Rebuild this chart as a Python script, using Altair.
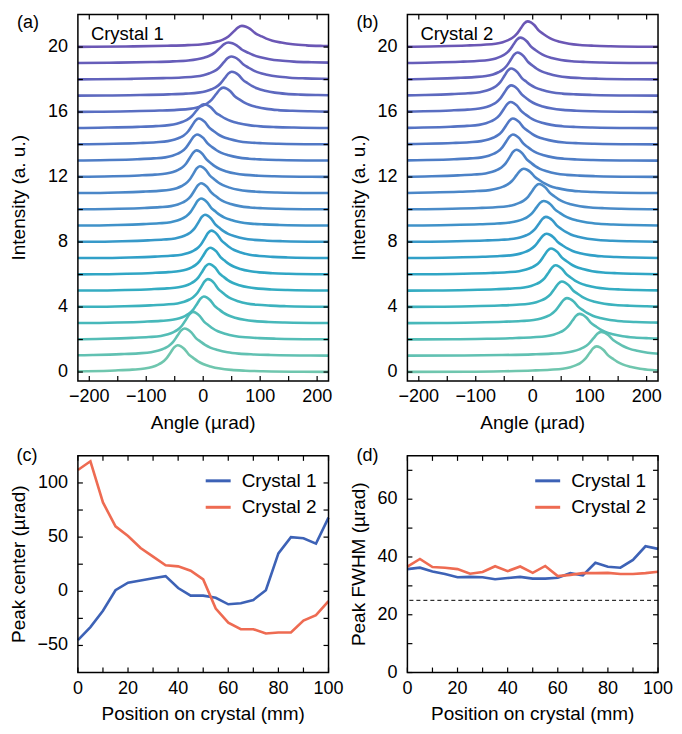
import altair as alt
import pandas as pd

FONT = "Liberation Sans"
BLUE = "#3d62b6"
RED = "#ee6b52"
WATERFALL_COLORS = ["#6fc6ae", "#4a8bc8", "#6b57b5"]

# ---------------- data ----------------
positions = [0, 5, 10, 15, 20, 25, 30, 35, 40, 45, 50, 55, 60, 65, 70, 75, 80, 85, 90, 95, 100]
series_names = ["Crystal 1", "Crystal 2"]

center_crystal1 = [-45, -33, -18, 1, 8, 10, 12, 14, 3, -4, -4, -6, -12, -11, -8, 1, 35, 50, 49, 44, 68]
center_crystal2 = [112, 120, 82, 60, 51, 40, 32, 24, 23, 19, 11, -16, -29, -35, -35, -39, -38, -38, -27, -22, -9]

fwhm_crystal1 = [35.8, 36.3, 35.0, 34.1, 33.0, 33.1, 33.0, 32.3, 32.7, 33.1, 32.5,
                 32.5, 32.8, 34.4, 33.6, 38.0, 36.6, 36.3, 39.0, 43.7, 42.8]
fwhm_crystal2 = [36.7, 39.3, 36.5, 36.3, 35.8, 34.2, 34.8, 36.8, 35.1, 36.7, 34.5,
                 36.9, 33.4, 33.8, 34.4, 34.4, 34.5, 34.1, 34.1, 34.4, 34.9]

# peak heights of the stacked profiles (a.u.) (a) and (b)
height_crystal1 = [1.65, 1.68, 1.70, 1.65, 1.72, 1.65, 1.65, 1.70, 1.68, 1.68, 1.62,
                   1.66, 1.64, 1.62, 1.60, 1.48, 1.50, 1.48, 1.42, 1.28, 1.30]
height_crystal2 = [1.58, 1.47, 1.58, 1.55, 1.57, 1.57, 1.60, 1.51, 1.55, 1.53, 1.57,
                   1.51, 1.68, 1.62, 1.60, 1.62, 1.64, 1.68, 1.66, 1.58, 1.58]

# shape of one rocking profile (offset in urad for a 36 urad wide peak, relative height)
profile_width = 36.0
profile_offset = [-450, -220, -160, -110, -80, -58, -45, -35, -28, -20, -12, -6, 0,
                  6, 12, 20, 28, 36, 45, 58, 75, 95, 120, 150, 220, 450]
profile_value = [0.0, 0.01, 0.03, 0.06, 0.09, 0.13, 0.19, 0.27, 0.35, 0.50, 0.74, 0.92, 1.0,
                 0.96, 0.86, 0.65, 0.52, 0.40, 0.30, 0.21, 0.13, 0.08, 0.05, 0.03, 0.01, 0.0]

FWHM_LIMIT = 25

# tick positions and labelled tick values of the axes
angle_ticks = [-200, -150, -100, -50, 0, 50, 100, 150, 200]
angle_labels = [-200, -100, 0, 100, 200]
intensity_ticks = [0, 2, 4, 6, 8, 10, 12, 14, 16, 18, 20]
intensity_labels = [0, 4, 8, 12, 16, 20]
position_ticks = [0, 10, 20, 30, 40, 50, 60, 70, 80, 90, 100]
position_labels = [0, 20, 40, 60, 80, 100]
center_ticks = [-50, -25, 0, 25, 50, 75, 100]
center_labels = [-50, 0, 50, 100]
fwhm_ticks = [0, 10, 20, 30, 40, 50, 60, 70]
fwhm_labels = [0, 20, 40, 60]

curve_ids = list(range(len(positions)))


def profiles(centers, widths, heights):
    rows = []
    for i, (c, w, h) in enumerate(zip(centers, widths, heights)):
        for k, (off, val) in enumerate(zip(profile_offset, profile_value)):
            rows.append({"curve": curve_ids[i], "order": k,
                         "angle": c + off * w / profile_width,
                         "intensity": curve_ids[i] + h * val})
    return pd.DataFrame(rows)


df_a = profiles(center_crystal1, fwhm_crystal1, height_crystal1)
df_b = profiles(center_crystal2, fwhm_crystal2, height_crystal2)

df_c = pd.DataFrame({
    "position": positions + positions,
    "crystal": [series_names[0]] * len(positions) + [series_names[1]] * len(positions),
    "value": center_crystal1 + center_crystal2,
})
df_d = pd.DataFrame({
    "position": positions + positions,
    "crystal": [series_names[0]] * len(positions) + [series_names[1]] * len(positions),
    "value": fwhm_crystal1 + fwhm_crystal2,
})
legend_df = pd.DataFrame({"crystal": series_names})

TOP_W, TOP_H = 251, 367
BOT_W, BOT_H = 251, 217
TICK_LEN = 5
LABEL_SIZE = 18
TITLE_SIZE = 19


def text_layer(label, x, y, size=18, align="center", angle=0):
    return alt.Chart(pd.DataFrame({"t": [label]})).mark_text(
        font=FONT, fontSize=size, align=align, baseline="middle", color="black", angle=angle
    ).encode(text="t:N", x=alt.value(x), y=alt.value(y))


def axes_layers(xs, ys, xticks, yticks, xlabels, ylabels, xtitle, ytitle, ytitle_x, w, h):
    """Frame, inward ticks on four sides, tick labels and titles, placed through the scales."""
    tick = dict(color="black", strokeWidth=1.2)
    xt = alt.Chart(pd.DataFrame({"v": xticks}))
    yt = alt.Chart(pd.DataFrame({"v": yticks}))
    lab = dict(font=FONT, fontSize=LABEL_SIZE, color="black", baseline="middle")
    return [
        xt.mark_rule(**tick).encode(x=alt.X("v:Q", scale=xs, axis=None),
                                    y=alt.value(h), y2=alt.value(h - TICK_LEN)),
        xt.mark_rule(**tick).encode(x=alt.X("v:Q", scale=xs, axis=None),
                                    y=alt.value(0), y2=alt.value(TICK_LEN)),
        yt.mark_rule(**tick).encode(y=alt.Y("v:Q", scale=ys, axis=None),
                                    x=alt.value(0), x2=alt.value(TICK_LEN)),
        yt.mark_rule(**tick).encode(y=alt.Y("v:Q", scale=ys, axis=None),
                                    x=alt.value(w), x2=alt.value(w - TICK_LEN)),
        alt.Chart(pd.DataFrame({"f": [0]})).mark_rect(
            fillOpacity=0, stroke="black", strokeWidth=1.5).encode(
            x=alt.value(0), x2=alt.value(w), y=alt.value(0), y2=alt.value(h)),
        alt.Chart(pd.DataFrame({"v": xlabels})).mark_text(align="center", **lab).encode(
            x=alt.X("v:Q", scale=xs, axis=None), y=alt.value(h + 16),
            text=alt.Text("v:Q", format="d")),
        alt.Chart(pd.DataFrame({"v": ylabels})).mark_text(align="right", **lab).encode(
            y=alt.Y("v:Q", scale=ys, axis=None), x=alt.value(-10),
            text=alt.Text("v:Q", format="d")),
        text_layer(xtitle, w / 2, h + 42, size=TITLE_SIZE),
        text_layer(ytitle, ytitle_x, h / 2, size=TITLE_SIZE, angle=270),
    ]


def waterfall(df, crystal_label, panel, panel_x, ytitle_x):
    xs = alt.Scale(domain=[-220, 220], nice=False, zero=False)
    ys = alt.Scale(domain=[-0.55, 22], nice=False, zero=False)
    color = alt.Color("curve:Q", legend=None,
                      scale=alt.Scale(domain=[0, 10, 20], range=WATERFALL_COLORS))
    lines = alt.Chart(df).mark_line(strokeWidth=2.6, clip=True, interpolate="monotone").encode(
        x=alt.X("angle:Q", scale=xs, axis=None),
        y=alt.Y("intensity:Q", scale=ys, axis=None),
        color=color,
        detail="curve:N",
        order="order:Q",
    )
    layers = [lines] + axes_layers(xs, ys, angle_ticks, intensity_ticks, angle_labels,
                                   intensity_labels, "Angle (µrad)", "Intensity (a. u.)",
                                   ytitle_x, TOP_W, TOP_H)
    layers += [text_layer(crystal_label, 13, 20, size=18.5, align="left"),
               text_layer(panel, panel_x, 8.5)]
    return alt.layer(*layers).properties(width=TOP_W, height=TOP_H)


def profile_panel(df, ydomain, yticks, ylabels, ytitle, panel, panel_x, ytitle_x, limit=None):
    xs = alt.Scale(domain=[0, 100], nice=False, zero=False)
    ys = alt.Scale(domain=ydomain, nice=False, zero=False)
    cscale = alt.Scale(domain=series_names, range=[BLUE, RED])
    lines = alt.Chart(df).mark_line(strokeWidth=2.6).encode(
        x=alt.X("position:Q", scale=xs, axis=None),
        y=alt.Y("value:Q", scale=ys, axis=None),
        color=alt.Color("crystal:N", scale=cscale, legend=None),
    )
    layers = [lines]
    if limit is not None:
        layers.append(alt.Chart(pd.DataFrame({"limit": [limit]})).mark_rule(
            strokeDash=[4, 3], color="black", strokeWidth=1).encode(
            y=alt.Y("limit:Q", scale=ys, axis=None)))
    layers += axes_layers(xs, ys, position_ticks, yticks, position_labels, ylabels,
                          "Position on crystal (mm)", ytitle, ytitle_x, BOT_W, BOT_H)
    # legend: short line samples + names, drawn from the series names
    for i, name in enumerate(series_names):
        row = alt.Chart(legend_df).transform_filter(alt.datum.crystal == name)
        py = 25 + 26.5 * i
        layers.append(row.mark_rule(strokeWidth=3).encode(
            x=alt.value(128), x2=alt.value(153), y=alt.value(py),
            color=alt.Color("crystal:N", scale=cscale, legend=None)))
        layers.append(row.mark_text(font=FONT, fontSize=19, align="left", baseline="middle",
                                    color="black").encode(
            x=alt.value(164), y=alt.value(py), text="crystal:N"))
    layers.append(text_layer(panel, panel_x, 0))
    return alt.layer(*layers).properties(width=BOT_W, height=BOT_H)


panel_a = waterfall(df_a, "Crystal 1", "(a)", -50, -59)
panel_b = waterfall(df_b, "Crystal 2", "(b)", -40, -48)
panel_c = profile_panel(df_c, [-75, 125], center_ticks, center_labels,
                        "Peak center (µrad)", "(c)", -51, -59)
panel_d = profile_panel(df_d, [0, 75], fwhm_ticks, fwhm_labels,
                        "Peak FWHM (µrad)", "(d)", -40, -48, limit=FWHM_LIMIT)

chart = alt.concat(panel_a, panel_b, panel_c, panel_d, columns=2,
                   spacing={"row": 12, "column": 5}).resolve_scale(
    color="independent"
).properties(
    padding={"left": 1, "top": 4, "right": 0, "bottom": 0}
).configure(background="white").configure_view(stroke="transparent")

chart.save("out.html", embed_options={"renderer": "svg", "actions": False})
